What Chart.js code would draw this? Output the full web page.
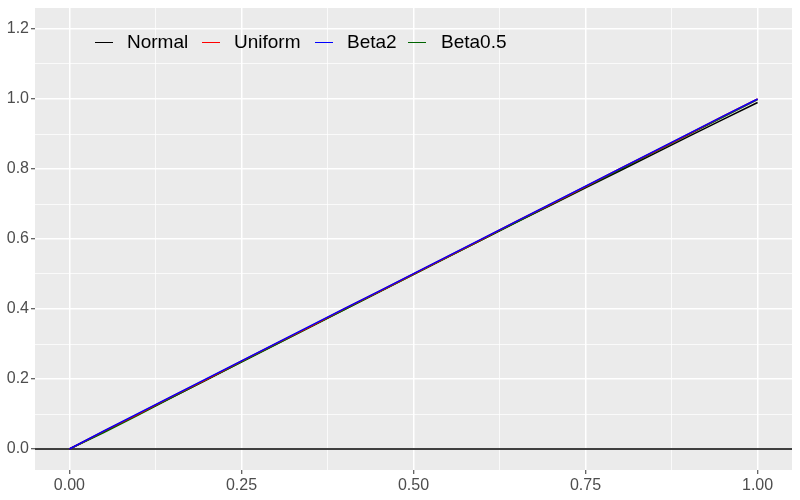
<!DOCTYPE html>
<html>
<head>
<meta charset="utf-8">
<script src="https://cdn.jsdelivr.net/npm/chart.js@4/dist/chart.umd.min.js"></script>
<style>
  html, body { margin: 0; padding: 0; background: #FFFFFF; }
  #wrap { position: relative; width: 800px; height: 500px; }
  #c { position: absolute; left: 0; top: 0; }
  .lg-sym { position: absolute; height: 0; border-top: 1.2px solid; }
  .lg-txt { position: absolute; font-family: "Liberation Sans", Arial, sans-serif; font-size: 19px; color: #000000; line-height: 19px; white-space: nowrap; }
</style>
</head>
<body>
<div id="wrap">
  <canvas id="c" width="800" height="500"></canvas>
</div>
<script>
// ---- data ----
const seriesNames = ["Normal", "Uniform", "Beta2", "Beta0.5"];
const seriesColors = ["#000000", "#FF0000", "#0000FF", "#006400"];
const xValues = [0, 0.05, 0.10, 0.15, 0.20, 0.25, 0.30, 0.35, 0.40, 0.45, 0.50, 0.55, 0.60, 0.65, 0.70, 0.75, 0.80, 0.85, 0.90, 0.95, 1.00];
const normalY  = [0, 0.049, 0.099, 0.148, 0.198, 0.249, 0.299, 0.349, 0.399, 0.449, 0.499, 0.549, 0.598, 0.648, 0.697, 0.746, 0.795, 0.844, 0.893, 0.942, 0.990];
const uniformY = [0, 0.051, 0.100, 0.151, 0.200, 0.251, 0.301, 0.350, 0.401, 0.450, 0.500, 0.550, 0.600, 0.651, 0.700, 0.750, 0.801, 0.850, 0.900, 0.951, 1.000];
const beta2Y   = [0, 0.052, 0.102, 0.152, 0.202, 0.252, 0.302, 0.352, 0.402, 0.451, 0.501, 0.551, 0.601, 0.651, 0.701, 0.751, 0.801, 0.851, 0.901, 0.951, 1.000];
const beta05Y  = [0, 0.047, 0.097, 0.148, 0.198, 0.248, 0.298, 0.348, 0.398, 0.448, 0.498, 0.548, 0.598, 0.648, 0.698, 0.748, 0.798, 0.848, 0.898, 0.948, 0.998];
const hlineY = 0;
const xTicks = [0, 0.125, 0.25, 0.375, 0.5, 0.625, 0.75, 0.875, 1.0];
const xMajor = [0, 0.25, 0.5, 0.75, 1.0];
const yTicks = [0, 0.1, 0.2, 0.3, 0.4, 0.5, 0.6, 0.7, 0.8, 0.9, 1.0, 1.1, 1.2];
const yMajor = [0, 0.2, 0.4, 0.6, 0.8, 1.0, 1.2];
const xRange = [-0.05, 1.05];
const yRange = [-0.06, 1.26];

// ---- build ----
const allY = [normalY, uniformY, beta2Y, beta05Y];
const isMajor = (v, list) => list.some(m => Math.abs(m - v) < 1e-9);
const drawOrder = [3, 1, 0, 2]; // Normal bottom, Beta2 top

const datasets = seriesNames.map((name, i) => ({
  label: name,
  data: xValues.map((x, j) => ({ x: x, y: allY[i][j] })),
  borderColor: seriesColors[i],
  backgroundColor: seriesColors[i],
  borderWidth: 1.5,
  pointRadius: 0,
  showLine: true,
  fill: false,
  tension: 0,
  order: drawOrder[i]
}));
datasets.push({
  label: "hline",
  data: [{ x: xRange[0], y: hlineY }, { x: xRange[1], y: hlineY }],
  borderColor: "#000000",
  borderWidth: 1.5,
  pointRadius: 0,
  showLine: true,
  fill: false,
  order: 4
});

const panelBg = {
  id: "panelBg",
  beforeDraw(chart) {
    const { ctx, chartArea: a } = chart;
    ctx.save();
    ctx.fillStyle = "#EBEBEB";
    ctx.fillRect(a.left, a.top, a.right - a.left, a.bottom - a.top);
    ctx.restore();
  }
};

const tickFont = { family: "'Liberation Sans', Arial, sans-serif", size: 16 };

const chart = new Chart(document.getElementById("c"), {
  type: "scatter",
  data: { datasets: datasets },
  plugins: [panelBg],
  options: {
    responsive: false,
    animation: false,
    layout: { padding: { left: 0, top: 8, right: 8, bottom: 0 } },
    plugins: { legend: { display: false }, tooltip: { enabled: false } },
    scales: {
      x: {
        type: "linear",
        min: xRange[0],
        max: xRange[1],
        afterBuildTicks: s => { s.ticks = xTicks.map(v => ({ value: v })); },
        afterFit: s => { s.height = 30; s.paddingLeft = 0; s.paddingRight = 0; },
        border: { display: false },
        grid: {
          color: "#FFFFFF",
          lineWidth: c => isMajor(c.tick.value, xMajor) ? 1.5 : 0.75,
          tickColor: c => isMajor(c.tick.value, xMajor) ? "#333333" : "rgba(0,0,0,0)",
          tickWidth: 1,
          tickLength: 4,
          drawTicks: true
        },
        ticks: {
          autoSkip: false,
          maxRotation: 0,
          padding: 2,
          color: "#4D4D4D",
          font: tickFont,
          callback: v => isMajor(v, xMajor) ? v.toFixed(2) : ""
        }
      },
      y: {
        type: "linear",
        min: yRange[0],
        max: yRange[1],
        afterBuildTicks: s => { s.ticks = yTicks.map(v => ({ value: v })); },
        afterFit: s => { s.width = 35; s.paddingTop = 0; s.paddingBottom = 0; },
        border: { display: false },
        grid: {
          color: "#FFFFFF",
          lineWidth: c => isMajor(c.tick.value, yMajor) ? 1.5 : 0.75,
          tickColor: c => isMajor(c.tick.value, yMajor) ? "#333333" : "rgba(0,0,0,0)",
          tickWidth: 1,
          tickLength: 4,
          drawTicks: true
        },
        ticks: {
          autoSkip: false,
          padding: 2,
          color: "#4D4D4D",
          font: tickFont,
          callback: v => isMajor(v, yMajor) ? v.toFixed(1) : ""
        }
      }
    }
  }
});

// ---- legend overlay inside panel ----
const legendSymX = [95, 202, 315, 408];
const legendTxtX = [127, 234, 347, 441];
const legendY = 42;
const wrap = document.getElementById("wrap");
seriesNames.forEach((name, i) => {
  const sym = document.createElement("div");
  sym.className = "lg-sym";
  sym.style.left = legendSymX[i] + "px";
  sym.style.top = (legendY - 0.5) + "px";
  sym.style.width = "18px";
  sym.style.borderTopColor = seriesColors[i];
  wrap.appendChild(sym);
  const t = document.createElement("div");
  t.className = "lg-txt";
  t.style.left = legendTxtX[i] + "px";
  t.style.top = (legendY - 10) + "px";
  t.textContent = name;
  wrap.appendChild(t);
});
</script>
</body>
</html>
